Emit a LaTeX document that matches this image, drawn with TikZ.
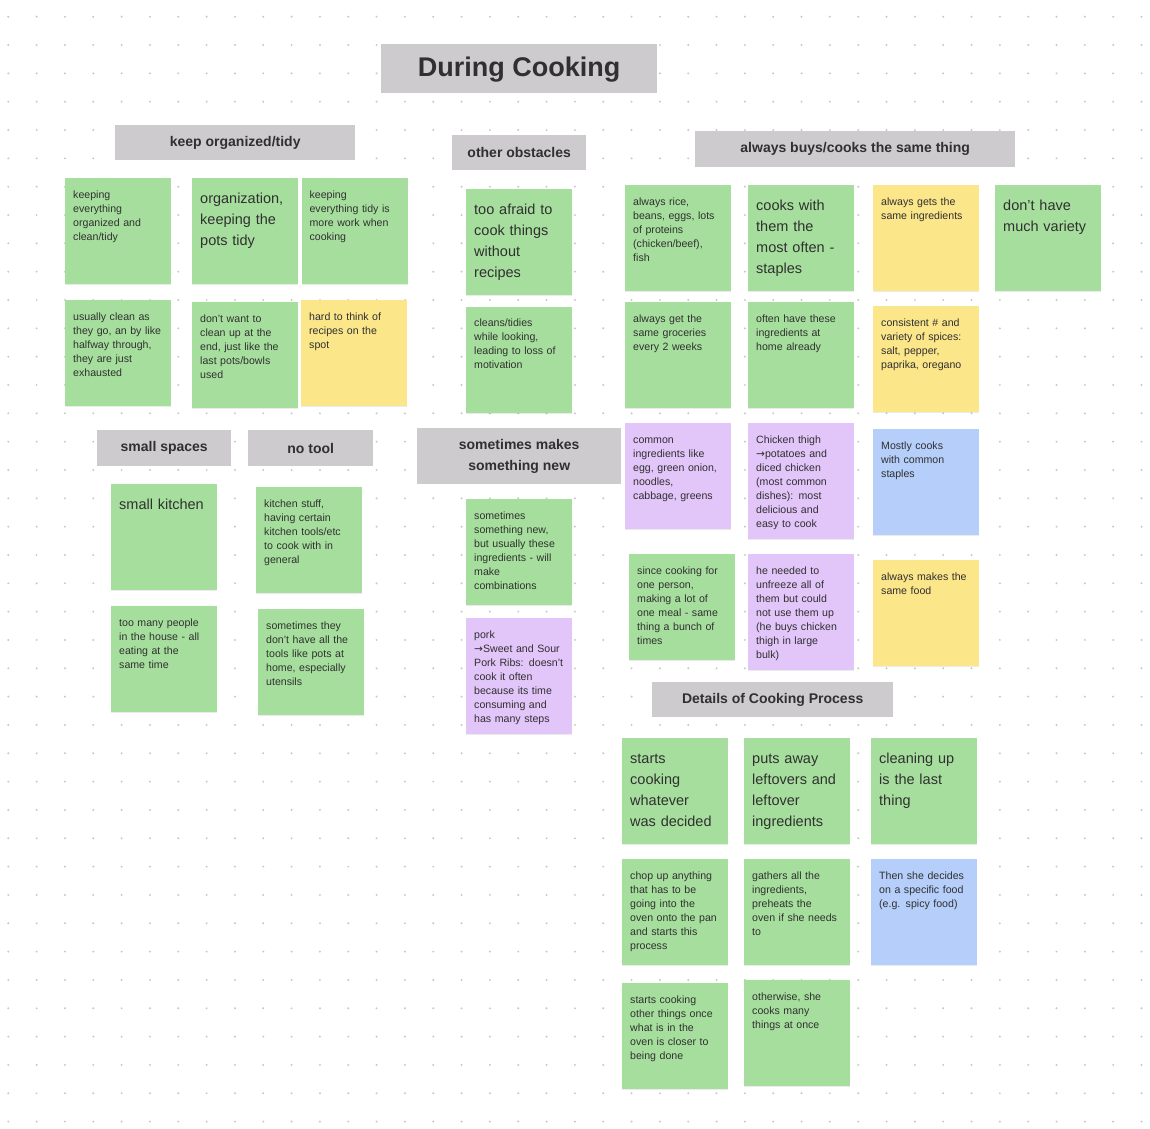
\documentclass[tikz,border=0pt]{standalone}
\usepackage{fontspec}
\setmainfont{Liberation Sans}
\newfontfamily\arrowfont{DejaVu Sans}
\usetikzlibrary{positioning, shadows}

\definecolor{notegreen}{RGB}{166,223,157}
\definecolor{noteyellow}{RGB}{251,230,138}
\definecolor{notepurple}{RGB}{226,197,249}
\definecolor{noteblue}{RGB}{181,206,250}
\definecolor{headgray}{RGB}{205,203,205}
\definecolor{ink}{RGB}{48,48,48}
\definecolor{griddot}{RGB}{200,200,200}

\newcommand{\toarrow}{{\arrowfont →}}

\begin{document}
\begin{tikzpicture}[x=1pt, y=-1pt,
  note/.style = {anchor=north west, fill=notegreen, text=ink, text width=90pt, align=left,
    inner xsep=8pt, inner ysep=10pt, text height=10pt, text depth=76pt,
    font=\fontsize{10.6}{14}\selectfont,
    drop shadow={shadow xshift=0pt, shadow yshift=-1.2pt, opacity=0.08, fill=black}},
  big/.style = {font=\fontsize{14.5}{21}\selectfont, text height=15pt, text depth=71pt},
  tall/.style = {text depth=86pt},
  header/.style = {anchor=north west, fill=headgray, text=ink, align=center,
    font=\fontsize{14}{21}\selectfont\bfseries, minimum height=35pt}]

\useasboundingbox (0,0) rectangle (1150,1128);
\fill[white] (0,0) rectangle (1150,1128);
% dot grid
\foreach \i in {0,...,40}
  \foreach \j in {0,...,39}
    \fill[griddot] (8.3+28.33*\i, 16.7+28.33*\j) circle (1.1pt);

\node[header, font=\fontsize{27}{32}\selectfont\bfseries, minimum width=276pt, minimum height=49pt, text depth=4pt] (title) at (381,44) {During Cooking};

% keep organized/tidy
\node[header, minimum width=240pt] (organized) at (115,125) {keep organized/tidy};
\node[note] (org1) at (65,178) {keeping\\everything\\organized and\\clean/tidy};
\node[note, big] (org2) at (192,178) {organization,\\keeping the\\pots tidy};
\node[note, right=3pt of org2] (org3) {keeping\\everything tidy is\\more work when\\cooking};
\node[note] (org4) at (65,300) {usually clean as\\they go, an by like\\halfway through,\\they are just\\exhausted};
\node[note] (org5) at (192,302) {don't want to\\clean up at the\\end, just like the\\last pots/bowls\\used};
\node[note, fill=noteyellow] (org6) at (301,300) {hard to think of\\recipes on the\\spot};

% other obstacles
\node[header, minimum width=134pt] (obstacles) at (452,135) {other obstacles};
\node[note, big] (obs1) at (466,189) {too afraid to\\cook things\\without\\recipes};
\node[note, below=11pt of obs1] (obs2) {cleans/tidies\\while looking,\\leading to loss of\\motivation};

% small spaces, no tool
\node[header, minimum width=134pt, minimum height=36pt] (spaces) at (97,430) {small spaces};
\node[header, minimum width=125pt, minimum height=36pt] (notool) at (248,430) {no tool};
\node[note, big] (space1) at (111,484) {small kitchen};
\node[note] (space2) at (111,606) {too many people\\in the house - all\\eating at the\\same time};
\node[note] (tool1) at (256,487) {kitchen stuff,\\having certain\\kitchen tools/etc\\to cook with in\\general};
\node[note] (tool2) at (258,609) {sometimes they\\don't have all the\\tools like pots at\\home, especially\\utensils};

% sometimes makes something new
\node[header, minimum width=204pt, minimum height=56pt] (new) at (417,428) {sometimes makes\\something new};
\node[note] (new1) at (466,499) {sometimes\\something new,\\but usually these\\ingredients - will\\make\\combinations};
\node[note, tall, fill=notepurple] (new2) at (466,618) {pork\\\toarrow Sweet and Sour\\Pork Ribs: doesn't\\cook it often\\because its time\\consuming and\\has many steps};

% always buys/cooks the same thing
\node[header, minimum width=320pt, minimum height=36pt] (samething) at (695,131) {always buys/cooks the same thing};
\node[note] (same1) at (625,185) {always rice,\\beans, eggs, lots\\of proteins\\(chicken/beef),\\fish};
\node[note, big] (same2) at (748,185) {cooks with\\them the\\most often -\\staples};
\node[note, fill=noteyellow] (same3) at (873,185) {always gets the\\same ingredients};
\node[note, big] (same4) at (995,185) {don't have\\much variety};
\node[note] (same5) at (625,302) {always get the\\same groceries\\every 2 weeks};
\node[note] (same6) at (748,302) {often have these\\ingredients at\\home already};
\node[note, fill=noteyellow] (same7) at (873,306) {consistent \# and\\variety of spices:\\salt, pepper,\\paprika, oregano};
\node[note, fill=notepurple] (same8) at (625,423) {common\\ingredients like\\egg, green onion,\\noodles,\\cabbage, greens};
\node[note, tall, fill=notepurple] (same9) at (748,423) {Chicken thigh\\\toarrow potatoes and\\diced chicken\\(most common\\dishes): most\\delicious and\\easy to cook};
\node[note, fill=noteblue] (same10) at (873,429) {Mostly cooks\\with common\\staples};
\node[note] (same11) at (629,554) {since cooking for\\one person,\\making a lot of\\one meal - same\\thing a bunch of\\times};
\node[note, tall, fill=notepurple] (same12) at (748,554) {he needed to\\unfreeze all of\\them but could\\not use them up\\(he buys chicken\\thigh in large\\bulk)};
\node[note, fill=noteyellow] (same13) at (873,560) {always makes the\\same food};

% details of cooking process
\node[header, minimum width=241pt] (process) at (652,682) {Details of Cooking Process};
\node[note, big] (proc1) at (622,738) {starts\\cooking\\whatever\\was decided};
\node[note, big] (proc2) at (744,738) {puts away\\leftovers and\\leftover\\ingredients};
\node[note, big] (proc3) at (871,738) {cleaning up\\is the last\\thing};
\node[note] (proc4) at (622,859) {chop up anything\\that has to be\\going into the\\oven onto the pan\\and starts this\\process};
\node[note] (proc5) at (744,859) {gathers all the\\ingredients,\\preheats the\\oven if she needs\\to};
\node[note, fill=noteblue] (proc6) at (871,859) {Then she decides\\on a specific food\\(e.g. spicy food)};
\node[note] (proc7) at (622,983) {starts cooking\\other things once\\what is in the\\oven is closer to\\being done};
\node[note] (proc8) at (744,980) {otherwise, she\\cooks many\\things at once};
\end{tikzpicture}
\end{document}
